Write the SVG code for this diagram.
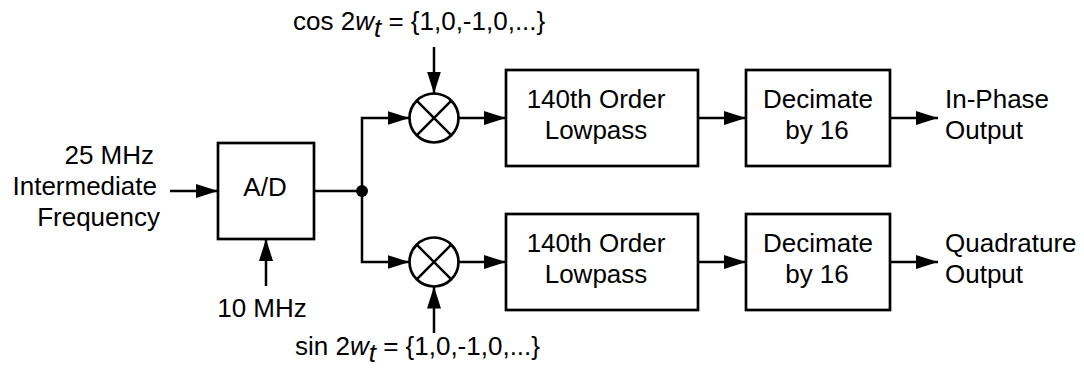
<svg xmlns="http://www.w3.org/2000/svg" width="1084" height="373" viewBox="0 0 1084 373">
  <style>
    .blk { fill: #fff; stroke: #000; stroke-width: 2.7; }
    .wire { fill: none; stroke: #000; stroke-width: 2.5; }
    .arr { marker-end: url(#head); }
    text { font-family: "Liberation Sans", Arial, sans-serif; font-size: 26px; fill: #000; }
    .c { text-anchor: middle; }
    .e { text-anchor: end; }
    .it { font-style: italic; }
  </style>
  <defs>
    <marker id="head" markerUnits="userSpaceOnUse" markerWidth="22" markerHeight="14" refX="22" refY="7" orient="auto">
      <path d="M0,0 L22,7 L0,14 Z" fill="#000"/>
    </marker>
  </defs>

  <rect width="1084" height="373" fill="#fff"/>

  <!-- signal wiring -->
  <g id="connectors">
    <line class="wire arr" x1="170" y1="191" x2="218" y2="191"/>
    <line class="wire arr" x1="266" y1="286" x2="266" y2="239"/>
    <line class="wire" x1="314" y1="191" x2="362" y2="191"/>
    <polyline class="wire arr" points="362,191 362,118 409.5,118"/>
    <polyline class="wire arr" points="362,191 362,262 409.5,262"/>
    <circle cx="362" cy="191" r="6" fill="#000"/>
    <line class="wire arr" x1="434" y1="47" x2="434" y2="93.5"/>
    <line class="wire arr" x1="434" y1="333" x2="434" y2="286.5"/>
    <line class="wire arr" x1="458.5" y1="118" x2="506" y2="118"/>
    <line class="wire arr" x1="458.5" y1="262" x2="506" y2="262"/>
    <line class="wire arr" x1="698" y1="118" x2="746" y2="118"/>
    <line class="wire arr" x1="698" y1="262" x2="746" y2="262"/>
    <line class="wire arr" x1="890" y1="118" x2="938" y2="118"/>
    <line class="wire arr" x1="890" y1="262" x2="938" y2="262"/>
  </g>

  <!-- input labels -->
  <g id="input-label">
    <text class="e" x="154" y="164">25 MHz</text>
    <text class="e" x="157" y="195">Intermediate</text>
    <text class="e" x="160" y="226">Frequency</text>
  </g>

  <g id="adc">
    <rect class="blk" x="218" y="143" width="96" height="96"/>
    <text class="c" x="265" y="196">A/D</text>
  </g>

  <g id="clock-label">
    <text class="c" x="262" y="317">10 MHz</text>
  </g>

  <g id="mixer-i">
    <circle class="blk" cx="434" cy="118" r="24.5"/>
    <path class="wire" d="M416.7,100.7 L451.3,135.3 M451.3,100.7 L416.7,135.3"/>
    <text x="293" y="30">cos 2<tspan class="it">w</tspan><tspan class="it" dy="7">t</tspan><tspan dy="-7"> = {1,0,-1,0,...}</tspan></text>
  </g>

  <g id="mixer-q">
    <circle class="blk" cx="434" cy="262" r="24.5"/>
    <path class="wire" d="M416.7,244.7 L451.3,279.3 M451.3,244.7 L416.7,279.3"/>
    <text x="295" y="355">sin 2<tspan class="it">w</tspan><tspan class="it" dy="7">t</tspan><tspan dy="-7"> = {1,0,-1,0,...}</tspan></text>
  </g>

  <g id="lowpass-i">
    <rect class="blk" x="506" y="70" width="192" height="96"/>
    <text class="c" x="596" y="108">140th Order</text>
    <text class="c" x="596" y="139">Lowpass</text>
  </g>

  <g id="lowpass-q">
    <rect class="blk" x="506" y="214" width="192" height="96"/>
    <text class="c" x="596" y="252">140th Order</text>
    <text class="c" x="596" y="283">Lowpass</text>
  </g>

  <g id="decimate-i">
    <rect class="blk" x="746" y="70" width="144" height="96"/>
    <text class="c" x="818" y="108">Decimate</text>
    <text class="c" x="817" y="139">by 16</text>
  </g>

  <g id="decimate-q">
    <rect class="blk" x="746" y="214" width="144" height="96"/>
    <text class="c" x="818" y="252">Decimate</text>
    <text class="c" x="817" y="283">by 16</text>
  </g>

  <g id="output-i">
    <text x="945" y="108">In-Phase</text>
    <text x="945" y="139">Output</text>
  </g>

  <g id="output-q">
    <text x="945" y="252">Quadrature</text>
    <text x="945" y="283">Output</text>
  </g>
</svg>
